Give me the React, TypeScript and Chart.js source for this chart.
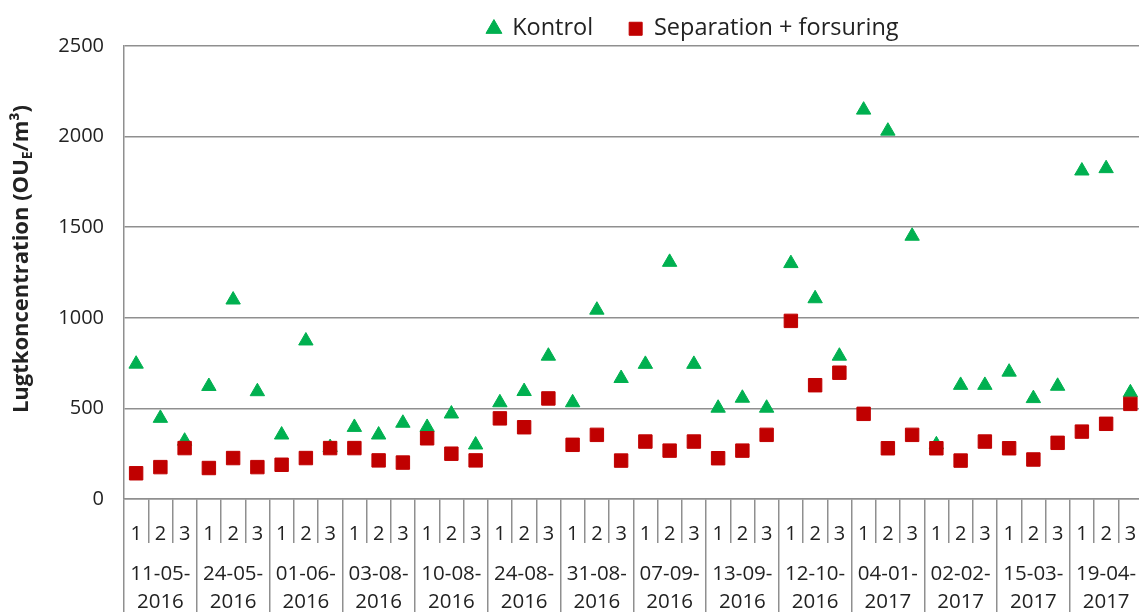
import React, { useEffect, useRef } from 'react';
import { Chart, registerables } from 'chart.js';

Chart.register(...registerables);

// ---- data ----
const dates = [
  '11-05-2016', '24-05-2016', '01-06-2016', '03-08-2016', '10-08-2016', '24-08-2016', '31-08-2016',
  '07-09-2016', '13-09-2016', '12-10-2016', '04-01-2017', '02-02-2017', '15-03-2017', '19-04-2017',
];
const replicates = ['1', '2', '3'];
const seriesNames = ['Kontrol', 'Separation + forsuring'];
const kontrol = [
  745, 446, 320, 622, 1099, 593, 354, 873, 285, 396, 354, 419, 396, 470, 299, 532, 594, 789, 532, 1043, 666,
  744, 1307, 744, 502, 557, 502, 1300, 1106, 789, 2147, 2031, 1451, 300, 628, 628, 701, 555, 623, 1811, 1824, 587,
];
const separation = [
  142, 176, 281, 171, 226, 176, 189, 226, 281, 281, 213, 201, 335, 250, 213, 445, 396, 555, 299, 354, 212,
  317, 267, 317, 225, 267, 354, 983, 628, 697, 470, 280, 354, 280, 212, 317, 280, 218, 310, 372, 415, 525,
];
const yTicks = [0, 500, 1000, 1500, 2000, 2500];
const yTitleParts = ['Lugtkoncentration (OU', 'E', '/m³)'];

// ---- style ----
const FONT = '"Open Sans", "Noto Sans", sans-serif';
const GRID = '#8f8f8f';
const TEXT = '#222222';
const GREEN = '#00B050';
const RED = '#C00000';

export default function App() {
  const ref = useRef<HTMLCanvasElement>(null);

  useEffect(() => {
    const canvas = ref.current;
    if (!canvas) return;
    const subLabels = dates.flatMap(() => replicates);
    const dateLabels = dates.map((d) => [d.slice(0, 6), d.slice(6)]);

    const yTitlePlugin = {
      id: 'yTitle',
      afterDraw(chart: any) {
        const ctx = chart.ctx as CanvasRenderingContext2D;
        const big = `bold 22px ${FONT}`;
        const small = `bold 14px ${FONT}`;
        ctx.save();
        ctx.font = big;
        const w1 = ctx.measureText(yTitleParts[0]).width;
        const w3 = ctx.measureText(yTitleParts[2]).width;
        ctx.font = small;
        const w2 = ctx.measureText(yTitleParts[1]).width;
        const total = w1 + w2 + w3;
        ctx.translate(22, 259);
        ctx.rotate(-Math.PI / 2);
        ctx.fillStyle = TEXT;
        ctx.textBaseline = 'middle';
        ctx.textAlign = 'left';
        let x = -total / 2;
        ctx.font = big;
        ctx.fillText(yTitleParts[0], x, 0);
        x += w1;
        ctx.font = small;
        ctx.fillText(yTitleParts[1], x, 6);
        x += w2;
        ctx.font = big;
        ctx.fillText(yTitleParts[2], x, 0);
        ctx.restore();
      },
    };

    const legendShift = {
      id: 'legendShift',
      afterLayout(chart: any) {
        const lg = chart.legend;
        if (!lg) return;
        const dx = 693 - (lg.left + lg.right) / 2;
        lg.left += dx;
        lg.right += dx;
        lg.top += 4.5;
        lg.bottom += 4.5;
      },
    };

    const chart = new Chart(canvas, {
      type: 'line',
      data: {
        labels: subLabels,
        datasets: [
          {
            label: seriesNames[0],
            data: kontrol,
            showLine: false,
            pointStyle: 'triangle',
            pointRadius: 8.3,
            pointHoverRadius: 8.3,
            backgroundColor: GREEN,
            borderColor: GREEN,
            pointBackgroundColor: GREEN,
            pointBorderColor: GREEN,
            pointBorderWidth: 1,
            borderWidth: 1,
            order: 1,
          },
          {
            label: seriesNames[1],
            data: separation,
            showLine: false,
            pointStyle: 'rect',
            pointRadius: 9.5,
            pointHoverRadius: 9.5,
            backgroundColor: RED,
            borderColor: RED,
            pointBackgroundColor: RED,
            pointBorderColor: RED,
            pointBorderWidth: 1,
            borderWidth: 1,
            order: 0,
          },
        ],
      },
      options: {
        responsive: false,
        animation: false,
        events: [],
        layout: { padding: { top: -23.5, left: 0, right: 0, bottom: 0 } },
        plugins: {
          legend: {
            display: true,
            position: 'top',
            labels: {
              usePointStyle: true,
              boxWidth: 13,
              boxHeight: 13,
              padding: 36,
              color: TEXT,
              font: { family: FONT, size: 23.5 },
              sort: (a: any, b: any) => a.datasetIndex - b.datasetIndex,
            },
          },
          tooltip: { enabled: false },
          title: { display: false },
        },
        scales: {
          x: {
            type: 'category',
            labels: subLabels,
            offset: true,
            weight: 0,
            grid: {
              offset: true,
              drawOnChartArea: false,
              drawTicks: true,
              tickLength: 44,
              tickColor: GRID,
              tickWidth: 1.5,
              color: GRID,
              lineWidth: 1.5,
            },
            border: { display: true, color: GRID, width: 1.5 },
            ticks: {
              autoSkip: false,
              maxRotation: 0,
              minRotation: 0,
              padding: -21,
              color: TEXT,
              font: { family: FONT, size: 20 },
            },
            afterFit: (s: any) => {
              s.height = 44;
            },
          },
          x2: {
            type: 'category',
            position: 'bottom',
            labels: dateLabels as any,
            offset: true,
            weight: 1,
            grid: {
              offset: true,
              drawOnChartArea: false,
              drawTicks: true,
              tickLength: 69,
              tickColor: GRID,
              tickWidth: 1.5,
              color: GRID,
              lineWidth: 1.5,
            },
            border: { display: false },
            ticks: {
              autoSkip: false,
              maxRotation: 0,
              minRotation: 0,
              padding: -52,
              color: TEXT,
              font: { family: FONT, size: 20.5, lineHeight: 1.37 },
            },
            afterFit: (s: any) => {
              s.height = 69;
            },
          },
          y: {
            min: 0,
            max: 2500,
            afterBuildTicks: (s: any) => {
              s.ticks = yTicks.map((v) => ({ value: v }));
            },
            ticks: {
              padding: 20,
              color: TEXT,
              font: { family: FONT, size: 20 },
              callback: (v: any) => String(v),
            },
            grid: { color: GRID, lineWidth: 1.5, drawTicks: false },
            border: { display: true, color: GRID, width: 1.5 },
            afterFit: (s: any) => {
              s.width = 124;
            },
          },
        },
      } as any,
      plugins: [yTitlePlugin, legendShift],
    });

    return () => {
      chart.destroy();
    };
  }, []);

  return (
    <div
      style={{
        position: 'fixed',
        left: 0,
        top: 0,
        width: 1139,
        height: 612,
        overflow: 'hidden',
        background: '#ffffff',
      }}
    >
      <canvas ref={ref} width={1153} height={612} style={{ display: 'block' }} />
    </div>
  );
}
